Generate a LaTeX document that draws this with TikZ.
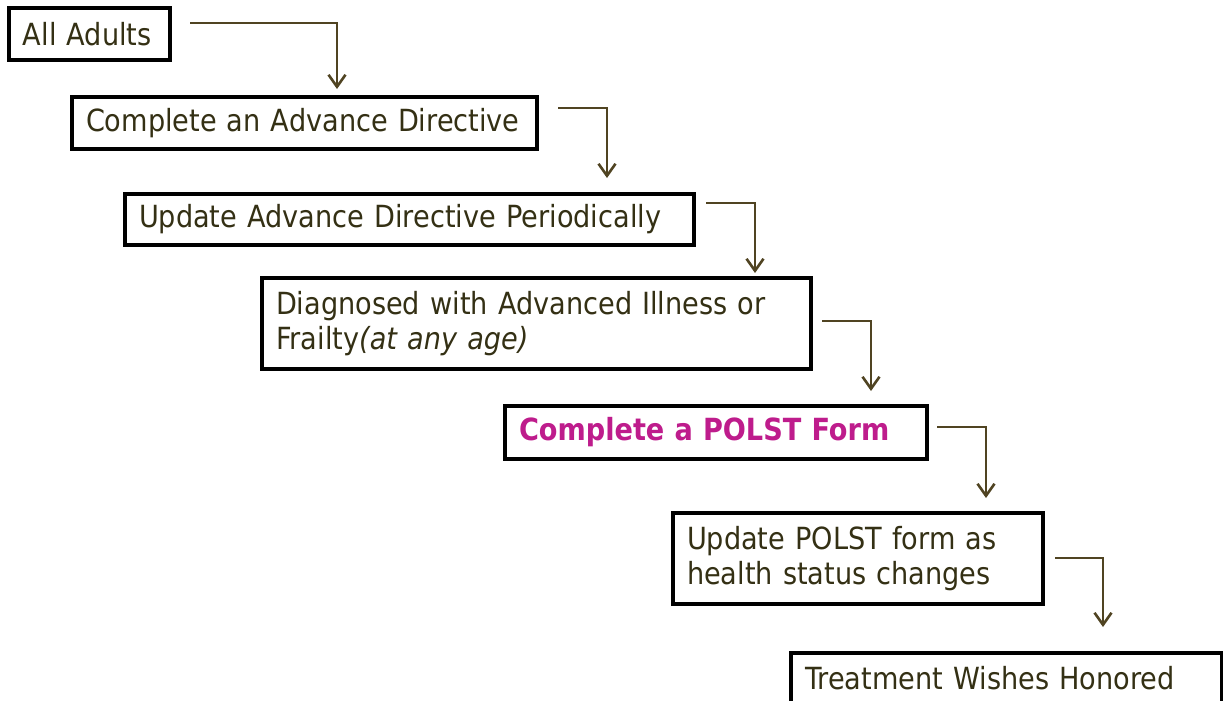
\documentclass[tikz,border=0pt]{standalone}
\usepackage{fontspec}
\setmainfont{DejaVu Sans}[FakeStretch=0.89]
\usepackage{tikz}
\usetikzlibrary{arrows.meta, calc}
\definecolor{textolive}{RGB}{52,48,20}
\definecolor{arrowolive}{RGB}{80,68,34}
\definecolor{polstpink}{RGB}{190,28,140}

\begin{document}
\begin{tikzpicture}[x=1pt, y=-1pt,
  >={Straight Barb[length=12pt, width=17pt]},
  stepbox/.style={draw=black, line width=3.5pt, fill=white, anchor=north west,
    outer sep=0pt, inner xsep=14pt, inner ysep=0pt, align=left,
    text=textolive, font=\fontsize{30.5}{35}\selectfont},
  flow/.style={->, draw=arrowolive, line width=2.6pt}]

% =============================================================================
% CADRE
% =============================================================================
\clip (0,0) rectangle (1223,701);
\fill[white] (0,0) rectangle (1223,701);

% =============================================================================
% ETAPES
% =============================================================================
\node[stepbox, text width=133pt, minimum height=52pt] (adults) at (9,8) {All Adults};
\node[stepbox, text width=437pt, minimum height=52pt] (advdir) at (72,97) {Complete an Advance Directive};
\node[stepbox, text width=541pt, minimum height=51pt] (update) at (125,194) {Update Advance Directive Periodically};
\node[stepbox, text width=521pt, minimum height=91pt] (illness) at (262,278)
  {Diagnosed with Advanced Illness or\\Frailty\textit{(at any age)}};
\node[stepbox, text width=394pt, minimum height=53pt, text=polstpink, font=\fontsize{30.5}{35}\selectfont\bfseries] (polst) at (505,406) {Complete a POLST Form};
\node[stepbox, text width=342pt, minimum height=91pt] (polstupd) at (673,513)
  {Update POLST form as\\health status changes};
\node[stepbox, text width=403pt, minimum height=50pt] (honored) at (791,653) {Treatment Wishes Honored};

% =============================================================================
% FLECHES
% =============================================================================
\coordinate (s1) at (190,23);   \coordinate (e1) at (337,89);
\coordinate (s2) at (558,108);  \coordinate (e2) at (607,178);
\coordinate (s3) at (706,203);  \coordinate (e3) at (755,273);
\coordinate (s4) at (822,321);  \coordinate (e4) at (871,391);
\coordinate (s5) at (937,427);  \coordinate (e5) at (986,498);
\coordinate (s6) at (1055,558); \coordinate (e6) at (1103,627);

\foreach \i in {1,...,6} {
    \draw[flow] (s\i) -| (e\i);
}

\end{tikzpicture}
\end{document}
